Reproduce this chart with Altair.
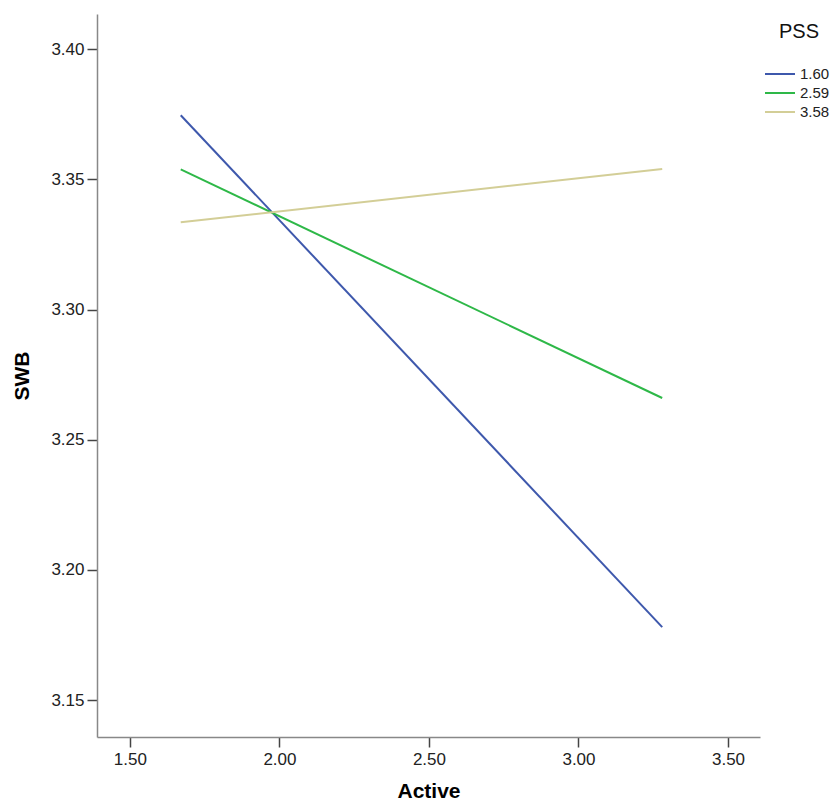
import altair as alt
import pandas as pd

active = [1.67, 3.28]
pss_levels = ["1.60", "2.59", "3.58"]
swb_160 = [3.3746, 3.178]
swb_259 = [3.3538, 3.266]
swb_358 = [3.3335, 3.354]
colors = ["#3E58AC", "#2EB848", "#D3CE97"]

rows = []
for lvl, vals in zip(pss_levels, [swb_160, swb_259, swb_358]):
    for a, v in zip(active, vals):
        rows.append({"Active": a, "SWB": v, "PSS": lvl})
df = pd.DataFrame(rows)

font = "Liberation Sans"

chart = alt.Chart(df).mark_line(strokeWidth=2).encode(
    x=alt.X("Active:Q",
            scale=alt.Scale(domain=[1.39, 3.607], nice=False, zero=False),
            axis=alt.Axis(values=[1.5, 2.0, 2.5, 3.0, 3.5], format=".2f",
                          title="Active", grid=False, tickSize=10,
                          labelPadding=4, titlePadding=13)),
    y=alt.Y("SWB:Q",
            scale=alt.Scale(domain=[3.1358, 3.4135], nice=False, zero=False),
            axis=alt.Axis(values=[3.15, 3.20, 3.25, 3.30, 3.35, 3.40], format=".2f",
                          title="SWB", grid=False, tickSize=10,
                          labelPadding=3, titlePadding=18)),
    color=alt.Color("PSS:N",
                    scale=alt.Scale(domain=pss_levels, range=colors),
                    legend=alt.Legend(title="PSS", orient="none", legendX=672, legendY=8,
                                      symbolType="M-1.5,0H1.5", symbolSize=400,
                                      symbolStrokeWidth=2, titleAnchor="middle",
                                      titleFontSize=20, titleFontWeight="normal",
                                      labelFontSize=15, titlePadding=21,
                                      rowPadding=0, labelOffset=9)),
    detail="PSS:N",
).properties(
    width=663, height=723,
    padding={"left": 89, "top": 6, "right": 70, "bottom": 64},
    autosize=alt.AutoSizeParams(type="none"),
).configure_view(stroke=None).configure_axis(
    labelFont=font, titleFont=font, labelFontSize=17, titleFontSize=21,
    titleFontWeight="bold", labelColor="#222", titleColor="#000",
    domainColor="#888", domainWidth=1.5, tickColor="#444", tickWidth=1.5,
).configure_legend(labelFont=font, titleFont=font, labelColor="#222", titleColor="#111")

chart.save("out.html", embed_options={"renderer": "svg", "actions": False})
